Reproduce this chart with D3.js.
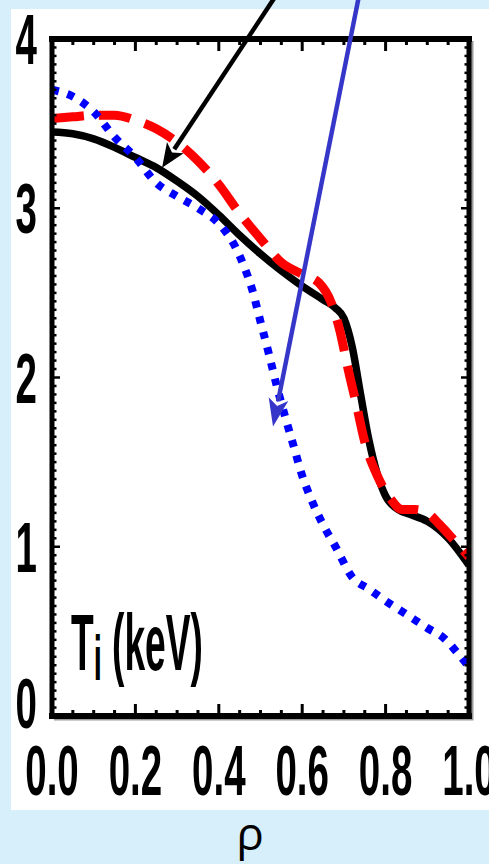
<!DOCTYPE html>
<html>
<head>
<meta charset="utf-8">
<script src="https://cdn.jsdelivr.net/npm/d3@7"></script>
<style>
  html, body { margin: 0; padding: 0; background: #d6effb; }
  svg { display: block; }
</style>
</head>
<body>
<script>
// ion temperature profiles
const rhoBlack = [0, 0.05, 0.1, 0.15, 0.2, 0.25, 0.3, 0.35, 0.4, 0.45, 0.5, 0.55, 0.6, 0.65, 0.68, 0.7, 0.72, 0.74, 0.76, 0.78, 0.8, 0.83, 0.86, 0.9, 0.95, 1.0];
const tiBlack  = [3.45, 3.44, 3.41, 3.36, 3.30, 3.24, 3.16, 3.07, 2.96, 2.84, 2.73, 2.63, 2.54, 2.46, 2.41, 2.35, 2.18, 1.90, 1.63, 1.43, 1.30, 1.22, 1.19, 1.15, 1.05, 0.89];

const rhoRed = [0, 0.05, 0.1, 0.15, 0.2, 0.25, 0.3, 0.35, 0.4, 0.45, 0.5, 0.55, 0.6, 0.64, 0.67, 0.69, 0.71, 0.73, 0.75, 0.78, 0.81, 0.84, 0.87, 0.9, 0.93, 0.96, 1.0];
const tiRed  = [3.53, 3.54, 3.55, 3.55, 3.52, 3.47, 3.39, 3.28, 3.14, 2.97, 2.82, 2.68, 2.61, 2.56, 2.44, 2.28, 2.05, 1.84, 1.62, 1.42, 1.29, 1.22, 1.22, 1.20, 1.13, 1.05, 0.94];

const rhoBlue = [0, 0.05, 0.1, 0.15, 0.2, 0.25, 0.3, 0.35, 0.4, 0.44, 0.46, 0.48, 0.5, 0.52, 0.54, 0.56, 0.58, 0.6, 0.62, 0.65, 0.68, 0.72, 0.76, 0.8, 0.85, 0.9, 0.94, 0.97, 1.0];
const tiBlue  = [3.70, 3.66, 3.57, 3.42, 3.30, 3.15, 3.07, 3.00, 2.91, 2.77, 2.66, 2.52, 2.33, 2.14, 1.94, 1.76, 1.59, 1.42, 1.29, 1.13, 1.00, 0.82, 0.75, 0.68, 0.60, 0.52, 0.46, 0.38, 0.29];

const xTicks = [0, 0.2, 0.4, 0.6, 0.8, 1.0];
const yTicks = [0, 1, 2, 3, 4];

// annotation arrows [rho0, ti0, rho1, ti1] (start above the frame, tip on the curves)
const arrowBlack = [0.546, 4.29, 0.264, 3.24];
const arrowBlue  = [0.739, 4.29, 0.530, 1.71];

const W = 489, H = 864;
const mLeft = 52, mRight = 469, mTop = 39, mBottom = 716;

const svg = d3.select("body").append("svg")
    .attr("width", W)
    .attr("height", H);

// white panel
svg.append("rect")
    .attr("x", 11).attr("y", 9)
    .attr("width", W - 11).attr("height", 801)
    .attr("fill", "#ffffff");

const x = d3.scaleLinear().domain([0, 1]).range([mLeft, mRight]);
const y = d3.scaleLinear().domain([0, 4]).range([mBottom, mTop]);

svg.append("defs").append("clipPath")
    .attr("id", "plotclip")
    .append("rect")
    .attr("x", mLeft).attr("y", mTop)
    .attr("width", mRight - mLeft).attr("height", mBottom - mTop);

const line = d3.line()
    .x(d => x(d[0]))
    .y(d => y(d[1]))
    .curve(d3.curveMonotoneX);

const curves = svg.append("g").attr("clip-path", "url(#plotclip)");

curves.append("path")
    .attr("d", line(d3.zip(rhoBlack, tiBlack)))
    .attr("fill", "none")
    .attr("stroke", "#000")
    .attr("stroke-width", 7.5);

curves.append("path")
    .attr("d", line(d3.zip(rhoRed, tiRed)))
    .attr("fill", "none")
    .attr("stroke", "#ff0000")
    .attr("stroke-width", 9)
    .attr("stroke-dasharray", "32,15");

curves.append("path")
    .attr("d", line(d3.zip(rhoBlue, tiBlue)))
    .attr("fill", "none")
    .attr("stroke", "#0000ff")
    .attr("stroke-width", 8)
    .attr("stroke-dasharray", "7,9");

// frame shadow + frame
svg.append("path")
    .attr("d", `M${mRight + 3},${mTop + 2}V${mBottom + 3}H${mLeft + 2}`)
    .attr("fill", "none")
    .attr("stroke", "#9a9a9a")
    .attr("stroke-width", 3);

const frame = svg.append("g").attr("stroke", "#000").attr("fill", "none");
frame.append("line").attr("x1", mLeft - 3).attr("x2", mRight + 3).attr("y1", mTop).attr("y2", mTop).attr("stroke-width", 6);
frame.append("line").attr("x1", mLeft - 3).attr("x2", mRight + 3).attr("y1", mBottom).attr("y2", mBottom).attr("stroke-width", 6);
frame.append("line").attr("x1", mLeft).attr("x2", mLeft).attr("y1", mTop).attr("y2", mBottom).attr("stroke-width", 5);
frame.append("line").attr("x1", mRight).attr("x2", mRight).attr("y1", mTop).attr("y2", mBottom).attr("stroke-width", 5);

// inward ticks
const xMinor = d3.range(0, 1.0001, 0.05);
const yMinor = d3.range(0, 4.0001, 0.05);
const isMajX = v => Math.abs(v * 5 - Math.round(v * 5)) < 1e-6;
const isMajY = v => Math.abs(v - Math.round(v)) < 1e-6;

const ticks = svg.append("g").attr("stroke", "#000");
xMinor.forEach(v => {
    const len = isMajX(v) ? 12 : 6;
    ticks.append("line").attr("x1", x(v)).attr("x2", x(v))
        .attr("y1", mBottom).attr("y2", mBottom - len).attr("stroke-width", 3);
    ticks.append("line").attr("x1", x(v)).attr("x2", x(v))
        .attr("y1", mTop).attr("y2", mTop + len).attr("stroke-width", 3);
});
yMinor.forEach(v => {
    const len = isMajY(v) ? 8 : 4.5;
    ticks.append("line").attr("x1", mLeft).attr("x2", mLeft + len)
        .attr("y1", y(v)).attr("y2", y(v)).attr("stroke-width", 2.5);
    ticks.append("line").attr("x1", mRight).attr("x2", mRight - len)
        .attr("y1", y(v)).attr("y2", y(v)).attr("stroke-width", 2.5);
});

// condensed bold tick labels
const sx = 0.55;
const labelFont = "'Liberation Sans', Arial, sans-serif";

svg.append("g").selectAll("text")
    .data(xTicks)
    .enter()
    .append("text")
    .attr("transform", d => `translate(${x(d)},795) scale(${sx},1)`)
    .attr("text-anchor", "middle")
    .attr("font-family", labelFont)
    .attr("font-weight", "bold")
    .attr("font-size", 70)
    .attr("fill", "#000")
    .text(d3.format(".1f"));

svg.append("g").selectAll("text")
    .data(yTicks)
    .enter()
    .append("text")
    .attr("transform", d => `translate(37,${Math.min(y(d), 703) + 25}) scale(${sx},1)`)
    .attr("text-anchor", "end")
    .attr("font-family", labelFont)
    .attr("font-weight", "bold")
    .attr("font-size", 70)
    .attr("fill", "#000")
    .text(d => d);

// panel label T_i (keV)
const lab = svg.append("text")
    .attr("transform", "translate(71,670) scale(0.47,1)")
    .attr("font-family", labelFont)
    .attr("font-weight", "bold")
    .attr("font-size", 79)
    .attr("fill", "#000");
lab.append("tspan").attr("fill", "#000").text("T");
lab.append("tspan").attr("fill", "#000").attr("font-size", 62).attr("dy", 10).text("i");
lab.append("tspan").attr("fill", "#000").attr("dy", -10).text(" (keV)");

// x axis title
svg.append("text")
    .attr("x", 250).attr("y", 850)
    .attr("text-anchor", "middle")
    .attr("font-family", "'Open Sans', 'Noto Sans', sans-serif")
    .attr("font-size", 46)
    .attr("fill", "#000")
    .text("ρ");

// arrows
function drawArrow(a, color, width, headLen, headW) {
    const x0 = x(a[0]), y0 = y(a[1]), x1 = x(a[2]), y1 = y(a[3]);
    const ang = Math.atan2(y1 - y0, x1 - x0);
    const bx = x1 - headLen * Math.cos(ang), by = y1 - headLen * Math.sin(ang);
    svg.append("line")
        .attr("x1", x0).attr("y1", y0)
        .attr("x2", bx + 2 * Math.cos(ang)).attr("y2", by + 2 * Math.sin(ang))
        .attr("stroke", color)
        .attr("stroke-width", width);
    const px = -Math.sin(ang) * headW, py = Math.cos(ang) * headW;
    svg.append("path")
        .attr("d", `M${x1},${y1}L${bx + px},${by + py}L${bx + 0.25 * (x1 - bx)},${by + 0.25 * (y1 - by)}L${bx - px},${by - py}Z`)
        .attr("fill", color);
}
drawArrow(arrowBlack, "#000", 4.5, 24, 10);
drawArrow(arrowBlue, "#3636c8", 4.5, 28, 10);
</script>
</body>
</html>
